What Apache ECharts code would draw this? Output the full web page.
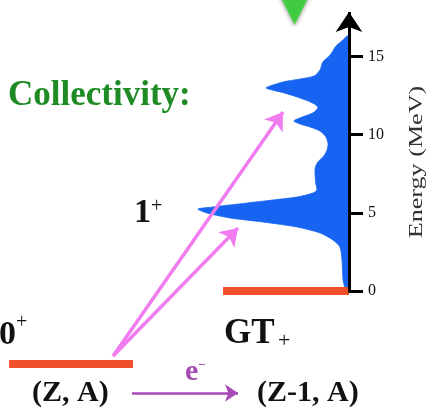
<!DOCTYPE html>
<html>
<head>
<meta charset="utf-8">
<script src="https://cdn.jsdelivr.net/npm/echarts@6/dist/echarts.min.js"></script>
<style>
  html, body { margin: 0; padding: 0; background: #fff; }
  #chart { width: 429px; height: 410px; }
</style>
</head>
<body>
<div id="chart"></div>
<script>
// GT+ strength distribution (arbitrary units) versus excitation energy (MeV)
const energyMeV = [16.32, 16.07, 15.69, 15.11, 14.66, 14.15, 13.76, 13.57, 13.38, 13.12, 12.99, 12.87,
  12.68, 12.42, 12.17, 11.91, 11.72, 11.40, 11.08, 10.88, 10.69, 10.50, 10.24, 9.86, 9.41, 9.02,
  8.64, 8.26, 7.87, 7.36, 6.85, 6.46, 6.27, 6.01, 5.63, 5.37, 5.24, 4.99, 4.67, 4.41, 4.09, 3.71,
  3.26, 2.81, 1.98, 0.70, 0.25, 0.12];
const strength = [0.06, 0.17, 0.37, 0.54, 0.75, 0.83, 1.00, 1.40, 1.89, 2.26, 2.38, 2.21,
  1.86, 1.49, 1.18, 0.95, 0.89, 1.03, 1.40, 1.58, 1.40, 1.12, 0.83, 0.66, 0.60, 0.63,
  0.72, 0.89, 0.97, 0.97, 0.95, 0.92, 1.03, 1.49, 2.92, 3.90, 4.33, 4.07, 3.41, 2.46, 1.49, 0.83,
  0.46, 0.26, 0.20, 0.17, 0.12, 0.06];

// energy axis ticks
const energyTicks = [0, 5, 10, 15];
const energyAxisTop = 17.86;

// levels: [strength-axis start, strength-axis end, energy]
const parentLevel = [9.74, 6.19, -4.68];   // 0+ state of (Z, A)
const daughterLevel = [3.61, 0.0, 0.0];    // ground of (Z-1, A)

// GT transitions from the 0+ state: [from strength, from energy, to strength, to energy]
const transitions = [
  [6.76, -4.17, 1.89, 11.45],
  [6.76, -4.17, 3.18, 4.03]
];

// electron capture arrow (Z, A) -> (Z-1, A)
const captureArrow = [6.22, -6.54, 3.18, -6.54];

// marker pointing down at the spectrum
const markerPoint = [1.56, 18.18];

const chart = echarts.init(document.getElementById('chart'), null, { renderer: 'canvas' });

const serif = '"Liberation Serif", "DejaVu Serif", serif';

const spectrumPoints = energyMeV.map((e, i) => [strength[i], e]);

chart.setOption({
  animation: false,
  backgroundColor: '#ffffff',
  grid: { left: 0, right: 80, top: 2, bottom: 2, containLabel: false },
  xAxis: {
    type: 'value', inverse: true, min: 0, max: 10, show: false
  },
  yAxis: {
    type: 'value', position: 'right', min: -7.5, max: 18.5,
    axisLine: { show: false },
    splitLine: { show: false },
    axisTick: {
      show: true, inside: false, length: 14, customValues: energyTicks,
      lineStyle: { color: '#000', width: 3 }
    },
    axisLabel: {
      show: true, margin: 19, customValues: energyTicks,
      fontFamily: serif, fontSize: 16, color: '#111'
    }
  },
  series: [
    {
      // strength distribution filled towards the energy axis
      type: 'custom',
      coordinateSystem: 'cartesian2d',
      data: spectrumPoints,
      clip: false,
      z: 2,
      renderItem: function (params, api) {
        if (params.dataIndex !== 0) return null;
        const pts = [api.coord([0, energyMeV[0]])];
        spectrumPoints.forEach(p => pts.push(api.coord(p)));
        pts.push(api.coord([0, energyMeV[energyMeV.length - 1]]));
        return {
          type: 'polygon',
          shape: { points: pts, smooth: 0.25 },
          style: { fill: '#1864f2', stroke: '#1864f2', lineWidth: 0.8 }
        };
      }
    },
    {
      // energy levels
      type: 'lines',
      coordinateSystem: 'cartesian2d',
      clip: false,
      z: 3,
      symbol: ['none', 'none'],
      lineStyle: { color: '#f0502a', width: 8, opacity: 1, cap: 'butt' },
      data: [
        { coords: [[parentLevel[0], parentLevel[2]], [parentLevel[1], parentLevel[2]]] },
        { coords: [[daughterLevel[0], daughterLevel[2]], [daughterLevel[1], daughterLevel[2]]] }
      ]
    },
    {
      // energy axis line with arrow head
      type: 'lines',
      coordinateSystem: 'cartesian2d',
      clip: false,
      z: 5,
      symbol: ['none', 'arrow'],
      symbolSize: [12, 20],
      lineStyle: { color: '#000', width: 3, opacity: 1 },
      data: [{ coords: [[0, -0.1], [0, energyAxisTop]] }]
    },
    {
      // GT transitions
      type: 'lines',
      coordinateSystem: 'cartesian2d',
      clip: false,
      z: 4,
      symbol: ['none', 'arrow'],
      symbolSize: [14, 17],
      lineStyle: { color: '#f07cf0', width: 3.5, opacity: 1 },
      data: transitions.map(t => ({ coords: [[t[0], t[1]], [t[2], t[3]]] }))
    },
    {
      // electron capture arrow
      type: 'lines',
      coordinateSystem: 'cartesian2d',
      clip: false,
      z: 4,
      symbol: ['none', 'arrow'],
      symbolSize: [12, 13],
      lineStyle: { color: '#a64ab6', width: 2.6, opacity: 1 },
      data: [{ coords: [[captureArrow[0], captureArrow[1]], [captureArrow[2], captureArrow[3]]] }]
    },
    {
      type: 'scatter',
      clip: false,
      z: 6,
      symbol: 'triangle',
      symbolRotate: 180,
      symbolSize: [36, 36],
      itemStyle: { color: '#2ad82a', shadowBlur: 4, shadowColor: 'rgba(0,0,0,0.55)', shadowOffsetY: 1 },
      data: [markerPoint]
    }
  ],
  graphic: [
    { type: 'text', style: { text: 'Collectivity:', x: 8, y: 96, verticalAlign: 'middle',
      font: 'bold 35px ' + serif, fill: '#1e8b24' } },
    { type: 'text', style: { text: '1', x: 134, y: 213, verticalAlign: 'middle',
      font: 'bold 34px ' + serif, fill: '#111' } },
    { type: 'text', style: { text: '+', x: 151, y: 207, verticalAlign: 'middle',
      font: '20px ' + serif, fill: '#111' } },
    { type: 'text', style: { text: '0', x: -1, y: 335, verticalAlign: 'middle',
      font: 'bold 34px ' + serif, fill: '#111' } },
    { type: 'text', style: { text: '+', x: 16, y: 323, verticalAlign: 'middle',
      font: '20px ' + serif, fill: '#111' } },
    { type: 'text', style: { text: 'GT', x: 224, y: 334, verticalAlign: 'middle',
      font: 'bold 35px ' + serif, fill: '#111' } },
    { type: 'text', style: { text: '+', x: 278, y: 341, verticalAlign: 'middle',
      font: '22px ' + serif, fill: '#111' } },
    { type: 'text', style: { text: '(Z, A)', x: 32, y: 393, verticalAlign: 'middle',
      font: 'bold 30px ' + serif, fill: '#111' } },
    { type: 'text', style: { text: '(Z-1, A)', x: 257, y: 393, verticalAlign: 'middle',
      font: 'bold 30px ' + serif, fill: '#111' } },
    { type: 'text', style: { text: 'e', x: 185, y: 372, verticalAlign: 'middle',
      font: 'bold 30px ' + serif, fill: '#a64ab6' } },
    { type: 'text', style: { text: '\u2212', x: 198, y: 366, verticalAlign: 'middle',
      font: 'bold 13px ' + serif, fill: '#a64ab6' } },
    { type: 'text', x: 417, y: 162, rotation: Math.PI / 2, scaleX: 1.45,
      style: { text: 'Energy (MeV)', x: 0, y: 0, align: 'center', verticalAlign: 'middle',
        font: '18px ' + serif, fill: '#333' } }
  ]
});
</script>
</body>
</html>
